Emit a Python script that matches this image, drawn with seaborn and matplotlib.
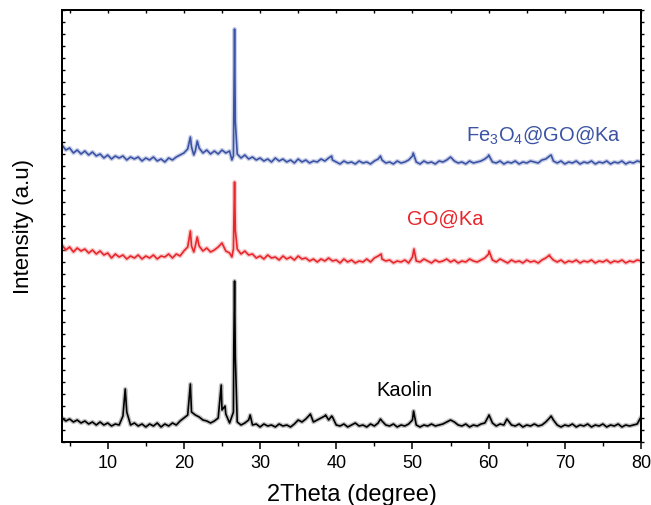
import numpy as np
import pandas as pd
import matplotlib
matplotlib.use("Agg")
import matplotlib.pyplot as plt
from matplotlib.ticker import MultipleLocator, NullFormatter
import seaborn as sns

# ---------------- data ----------------
# base sampling positions (2theta, degree) shared by the three scans
grid_start, grid_stop, grid_step = 4.0, 80.0, 0.5

kaolin_base = [
    24, 21, 23, 20, 22, 19, 21, 18, 20, 17,
    20, 17, 19, 16, 18, 17, 26, 30, 17, 19,
    16, 18, 15, 18, 16, 19, 15, 18, 16, 19,
    17, 21, 24, 27, 30, 27, 25, 22, 21, 19,
    21, 24, 32, 28, 19, 30, 20, 17, 19, 22,
    17, 18, 15, 18, 16, 17, 15, 18, 16, 17,
    15, 18, 22, 20, 23, 27, 20, 22, 24, 26,
    22, 25, 17, 16, 18, 15, 17, 19, 16, 17,
    15, 18, 16, 19, 21, 17, 16, 18, 15, 17,
    16, 18, 22, 17, 15, 17, 16, 18, 16, 17,
    18, 20, 22, 20, 17, 16, 18, 15, 17, 16,
    18, 19, 26, 19, 16, 18, 17, 22, 17, 16,
    18, 15, 17, 16, 18, 16, 17, 20, 24, 22,
    17, 15, 17, 16, 18, 15, 17, 16, 18, 15,
    17, 16, 18, 15, 17, 16, 18, 15, 17, 16,
    17, 18, 25,
]
kaolin_peak_x = [12.3, 20.85, 24.9, 25.4, 26.55, 26.65, 26.75, 28.7, 36.6, 38.6, 39.4, 45.8, 50.15, 60.05, 62.4, 68.2]
kaolin_peak_y = [53, 58, 57, 36, 95, 161, 85, 27, 28, 27, 26, 23, 31, 27, 23, 26]

goka_base = [
    197, 192, 195, 190, 194, 191, 193, 189, 192, 188,
    191, 187, 189, 184, 188, 185, 187, 183, 186, 184,
    187, 183, 186, 184, 187, 183, 186, 185, 188, 184,
    188, 186, 191, 195, 196, 196, 196, 191, 194, 190,
    192, 195, 199, 191, 189, 193, 193, 188, 191, 187,
    188, 184, 186, 183, 187, 184, 185, 182, 186, 183,
    185, 182, 186, 183, 184, 181, 183, 180, 183, 181,
    184, 181, 182, 179, 183, 180, 182, 179, 181, 180,
    183, 180, 184, 186, 183, 181, 182, 179, 181, 180,
    182, 179, 185, 181, 180, 183, 181, 179, 182, 180,
    181, 183, 180, 182, 179, 181, 180, 183, 181, 180,
    182, 184, 188, 182, 180, 183, 181, 179, 182, 180,
    181, 179, 182, 180, 181, 179, 182, 184, 186, 182,
    180, 182, 179, 181, 180, 182, 179, 181, 180, 182,
    179, 181, 180, 182, 179, 181, 180, 182, 179, 181,
    180, 182, 181,
]
goka_peak_x = [20.85, 21.3, 21.75, 26.3, 26.55, 26.65, 26.75, 45.9, 50.2, 60.05, 68.0]
goka_peak_y = [211, 190, 205, 185, 215, 260, 212, 188, 193, 191, 187]

fe_base = [
    297, 292, 294, 289, 292, 288, 291, 287, 290, 286,
    288, 284, 287, 283, 286, 284, 286, 282, 285, 283,
    285, 281, 284, 282, 285, 281, 283, 280, 284, 282,
    285, 287, 289, 293, 295, 291, 294, 289, 292, 288,
    291, 288, 292, 289, 291, 286, 288, 284, 287, 283,
    285, 282, 284, 281, 283, 280, 284, 281, 283, 280,
    282, 279, 283, 280, 282, 279, 281, 280, 283, 281,
    284, 282, 280, 278, 281, 279, 280, 278, 281, 279,
    280, 278, 281, 283, 282, 279, 280, 278, 281, 279,
    280, 282, 286, 280, 278, 281, 279, 280, 278, 281,
    280, 282, 285, 281, 279, 280, 278, 281, 279, 280,
    281, 283, 286, 280, 279, 281, 278, 280, 279, 281,
    278, 280, 279, 281, 280, 279, 282, 283, 286, 281,
    279, 281, 278, 280, 279, 281, 278, 280, 279, 281,
    278, 280, 279, 281, 278, 280, 279, 281, 278, 280,
    279, 281, 280,
]
fe_peak_x = [20.85, 21.3, 21.75, 26.3, 26.55, 26.65, 26.75, 39.4, 45.8, 50.1, 60.0, 68.2]
fe_peak_y = [305, 287, 301, 282, 330, 413, 320, 286, 286, 289, 287, 287]

series_names = ["Kaolin", "GO@Ka", "Fe$_3$O$_4$@GO@Ka"]
series_colors = ["#000000", "#e8262b", "#3b53a4"]
halo_colors = ["#7a7a7a", "#f08a8c", "#8d9bcc"]

x_ticks = [10, 20, 30, 40, 50, 60, 70, 80]


def build(name, base, px, py):
    gx = np.arange(grid_start, grid_stop + grid_step / 2, grid_step)
    assert len(gx) == len(base), (name, len(gx), len(base))
    df = pd.DataFrame({"two_theta": np.concatenate([gx, px]),
                       "intensity": np.concatenate([np.array(base, float), np.array(py, float)])})
    df = df.sort_values("two_theta").reset_index(drop=True)
    df["sample"] = name
    return df


frames = [build(series_names[0], kaolin_base, kaolin_peak_x, kaolin_peak_y),
          build(series_names[1], goka_base, goka_peak_x, goka_peak_y),
          build(series_names[2], fe_base, fe_peak_x, fe_peak_y)]

# ---------------- figure ----------------
sns.set_theme(style="white")
plt.rcParams["font.family"] = ["Liberation Sans", "DejaVu Sans"]
plt.rcParams["mathtext.fontset"] = "custom"
plt.rcParams["mathtext.rm"] = "Liberation Sans"
plt.rcParams["mathtext.it"] = "Liberation Sans"
plt.rcParams["text.color"] = "black"
plt.rcParams["axes.labelcolor"] = "black"
plt.rcParams["xtick.color"] = "black"
plt.rcParams["ytick.color"] = "black"

fig = plt.figure(figsize=(6.51, 5.06), dpi=100)
ax = fig.add_axes([62 / 651, 1 - 443 / 506, (641 - 62) / 651, (443 - 11) / 506])

for df, c, hc in zip(frames, series_colors, halo_colors):
    sns.lineplot(data=df, x="two_theta", y="intensity", ax=ax, color=hc,
                 lw=3.2, alpha=0.45, estimator=None, sort=False, legend=False)
    sns.lineplot(data=df, x="two_theta", y="intensity", ax=ax, color=c,
                 lw=1.2, estimator=None, sort=False, legend=False)

ax.set_xlim(4, 80)
ax.set_ylim(0, 432)
ax.set_xticks(x_ticks)
ax.xaxis.set_minor_locator(MultipleLocator(5))
ax.yaxis.set_major_locator(MultipleLocator(12))
ax.yaxis.set_major_formatter(NullFormatter())

for s in ax.spines.values():
    s.set_color("black")
    s.set_linewidth(1.3)

ax.tick_params(axis="x", which="major", direction="out", length=5, width=1.1,
               color="black", labelcolor="black", labelsize=13, pad=4, top=False)
ax.tick_params(axis="x", which="minor", direction="out", length=3, width=1.0,
               color="black", bottom=True, top=False)
ax.tick_params(axis="y", which="major", direction="in", length=2.5, width=1.0,
               color="black", left=True, right=False)

# mirrored ticks on top and right
axt = ax.twiny()
axt.set_xlim(ax.get_xlim())
axt.set_xticks(x_ticks)
axt.xaxis.set_minor_locator(MultipleLocator(5))
axt.xaxis.set_major_formatter(NullFormatter())
axt.tick_params(axis="x", which="both", direction="in", length=2.5, width=1.0, color="black")
axr = ax.twinx()
axr.set_ylim(ax.get_ylim())
axr.yaxis.set_major_locator(MultipleLocator(12))
axr.yaxis.set_major_formatter(NullFormatter())
axr.tick_params(axis="y", which="major", direction="out", length=2.5, width=1.0, color="black")
for a in (axt, axr):
    for s in a.spines.values():
        s.set_linewidth(1.3)
        s.set_color("black")

ax.set_xlabel("2Theta (degree)", fontsize=17, labelpad=8, color="black")
ax.set_ylabel("Intensity (a.u)", fontsize=16, labelpad=17, color="black")

ax.text(57.0, 308, series_names[2], color=series_colors[2], fontsize=14.5, va="center", ha="left")
ax.text(54.3, 224, series_names[1], color=series_colors[1], fontsize=14.5, va="center", ha="center")
ax.text(45.3, 53, series_names[0], color=series_colors[0], fontsize=14.5, va="center", ha="left")

fig.savefig("out.png", dpi=100)
